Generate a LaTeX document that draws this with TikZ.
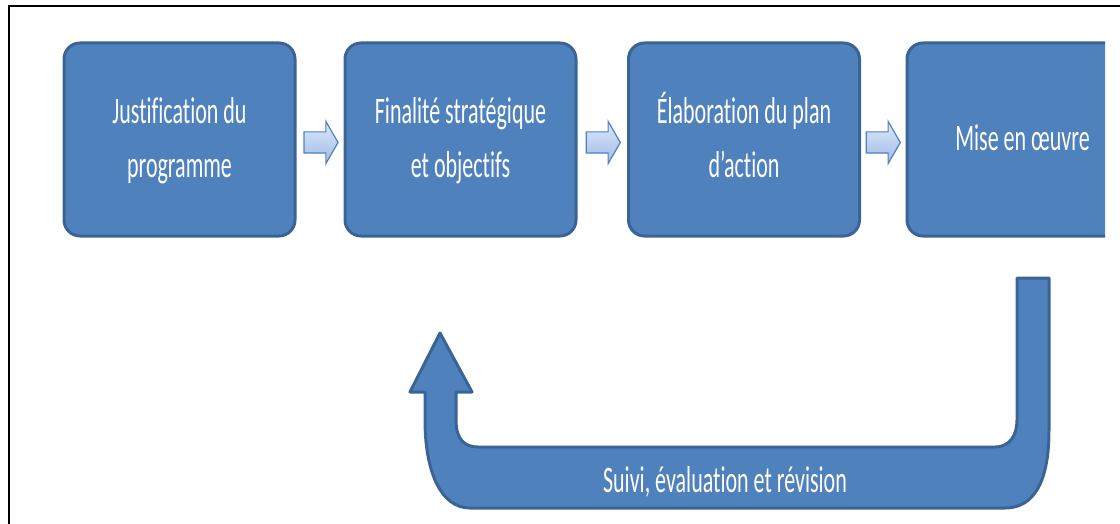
\documentclass[tikz,border=0pt]{standalone}
\usepackage{fontspec}
\setmainfont{Carlito}[Ligatures=NoCommon]
\usetikzlibrary{shapes.arrows,calc}
\definecolor{boxblue}{HTML}{4F81BD}
\definecolor{edgeblue}{HTML}{3A6496}
\definecolor{arrtop}{HTML}{DDE8F8}
\definecolor{arrbot}{HTML}{9FBCEA}
\newcommand{\stxt}[1]{\scalebox{1}[1.7]{\begin{tabular}{@{}c@{}}#1\end{tabular}}}
\begin{document}
\begin{tikzpicture}[x=0.5pt,y=-0.5pt,
  stepbox/.style={rectangle, rounded corners=8pt, fill=boxblue, draw=edgeblue, line width=1.5pt,
    minimum width=115.5pt, minimum height=96.5pt, inner sep=0pt, text=white,
    font=\fontsize{11}{16}\selectfont},
  flowarrow/.style={single arrow, single arrow tip angle=120, single arrow head extend=5.25pt,
    text height=5pt, text depth=5pt, text width=0pt,
    minimum height=17pt, inner sep=0pt,
    top color=arrtop, bottom color=arrbot, draw=boxblue, line width=0.6pt},
  looparrow/.style={fill=boxblue, draw=edgeblue, line width=1.5pt, line join=round},
  looplabel/.style={text=white, font=\fontsize{11}{16}\selectfont, inner sep=0pt}]
\useasboundingbox (0,0) rectangle (1120,524);
% frame
\draw[black, line width=1pt] (9,524) -- (9,6) -- (1120,6);
% boxes
\node[stepbox] (b1) at (179.5,139.5) {\stxt{Justification du\\programme}};
\node[stepbox] (b2) at (460.5,139.5) {\stxt{Finalité stratégique\\et objectifs}};
\node[stepbox] (b3) at (744,139.5) {\stxt{Élaboration du plan\\d’action}};
\begin{scope}
\clip (0,0) rectangle (1105,524);
\node[stepbox] (b4) at (1022.5,139.5) {\stxt{Mise en œuvre}};
\end{scope}
% small arrows
\node[flowarrow] (a1) at ($(b1.east)!0.5!(b2.west)+(-2,3)$) {};
\node[flowarrow] (a2) at ($(b2.east)!0.5!(b3.west)+(-2,3)$) {};
\node[flowarrow] (a3) at ($(b3.east)!0.5!(b4.west)+(-3,3)$) {};
% loop arrow
\draw[looparrow] (1049,278) -- (1049,430)
  .. controls (1049,480) and (1035,508) .. (1005,508)
  -- (470,508)
  .. controls (440,508) and (425,470) .. (425,420)
  -- (425,392) -- (410,392) -- (440,333) -- (472,392) -- (456,392) -- (456,420)
  .. controls (456,440) and (465,447) .. (478,447)
  -- (995,447)
  .. controls (1010,447) and (1017,435) .. (1017,420)
  -- (1017,278) -- cycle;
\node[looplabel] (lbl) at (725,482) {\scalebox{1}[1.7]{Suivi, évaluation et révision}};
\end{tikzpicture}
\end{document}
